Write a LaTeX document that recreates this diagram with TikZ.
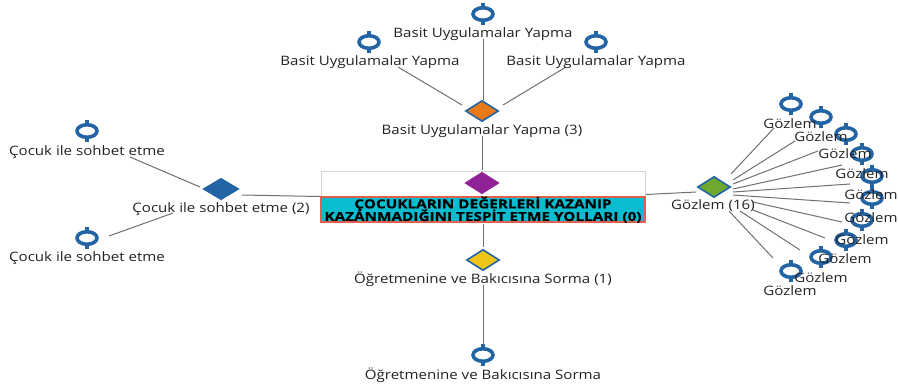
\documentclass[tikz,border=0pt]{standalone}
\usepackage{fontspec}
\setmainfont[FakeStretch=1.16]{Open Sans}
\usetikzlibrary{shapes.geometric}
\definecolor{symblue}{HTML}{2364A5}
\definecolor{linegray}{HTML}{707070}
\definecolor{txtgray}{HTML}{222222}
\definecolor{teal}{HTML}{0ABCCF}
\definecolor{boxred}{HTML}{E0604F}
\definecolor{boxgray}{HTML}{D4D4D4}
\definecolor{dorange}{HTML}{E87B17}
\definecolor{dpurple}{HTML}{8E2296}
\definecolor{dyellow}{HTML}{EEC516}
\definecolor{dgreen}{HTML}{6FA82E}
\newcommand{\centerfont}{\fontsize{12.4}{12.6}\selectfont\bfseries\addfontfeature{FakeBold=0.5,FakeStretch=1.235}\lineskiplimit=-20pt\relax}
\tikzset{
  x=1pt,y=-1pt,
  conn/.style={draw=linegray,line width=1pt},
  dia/.style={diamond,draw=symblue,line width=1.6pt,inner sep=0pt,minimum width=33pt,minimum height=21pt},
  lab/.style={inner sep=0pt,text=txtgray,font=\fontsize{13}{14}\selectfont},
  ring/.style={ellipse,draw=symblue,fill=white,line width=3.6pt,inner sep=0pt,minimum width=20pt,minimum height=12.5pt},
  stem/.style={draw=symblue,line width=3.4pt},
}
\newcommand{\symb}[3]{%
  \draw[stem] (#2,#3-11) -- (#2,#3+11);
  \node[ring] (#1) at (#2,#3) {};}
\begin{document}
\begin{tikzpicture}
\useasboundingbox (0,0) rectangle (898,384);
% central box
\node[draw=boxgray,line width=1pt,fill=white,minimum width=324pt,minimum height=26pt,inner sep=0pt] (top) at (483,184) {};
\node[draw=boxred,line width=1.4pt,fill=teal,minimum width=324pt,minimum height=25pt,inner sep=0pt] (main) at (483,209.5) {};
\node[inner sep=0pt,align=center,font=\centerfont,text=black] (maintext) at (483,209.8)
      {ÇOCUKLARIN DEĞERLERİ KAZANIP\\KAZANMADIĞINI TESPİT ETME YOLLARI (0)};
% diamonds
\node[dia,fill=dpurple,draw=dpurple] (dcenter) at (482,183) {};
\node[dia,fill=dorange] (dtop) at (482,111) {};
\node[dia,fill=dyellow] (dbot) at (483,260) {};
\node[dia,fill=symblue,minimum width=35pt] (dleft) at (221,189) {};
\node[dia,fill=dgreen] (dright) at (714,187) {};
% leaf symbols
\symb{t1}{369}{42}
\symb{t2}{483}{14}
\symb{t3}{596}{42}
\symb{b1}{483}{355}
\symb{l1}{87}{131}
\symb{l2}{87}{238}
\symb{r1}{791}{104}
\symb{r2}{821}{117}
\symb{r3}{846}{134}
\symb{r4}{862}{154}
\symb{r5}{872}{176}
\symb{r6}{872}{198}
\symb{r7}{862}{220}
\symb{r8}{846}{240}
\symb{r9}{821}{257}
\symb{r10}{791}{271}
% connectors
\draw[conn] ([shift={(0,25)}]t2.center) -- ([shift={(1,-11)}]dtop.center);
\draw[conn] ([shift={(29,25)}]t1.center) -- ([shift={(-20,-6)}]dtop.center);
\draw[conn] ([shift={(-30,25)}]t3.center) -- ([shift={(21,-6)}]dtop.center);
\draw[conn] ([shift={(0,25)}]dtop.center) -- ([shift={(0,-13)}]dcenter.center);
\draw[conn] ([shift={(0,14.5)}]main.center) -- ([shift={(0,-13)}]dbot.center);
\draw[conn] ([shift={(0,25)}]dbot.center) -- ([shift={(0,-10)}]b1.center);
\draw[conn] ([shift={(43,26)}]l1.center) -- ([shift={(-21,-2)}]dleft.center);
\draw[conn] ([shift={(22,-2)}]l2.center) -- ([shift={(-48,24)}]dleft.center);
\draw[conn] ([shift={(21,6)}]dleft.center) -- ([shift={(-163,-13)}]main.center);
\draw[conn] ([shift={(163,-15)}]main.center) -- ([shift={(-18,5)}]dright.center);
\foreach \n/\ax/\ay/\bx/\by in {
  r1/-17/24/17/-13, r2/-26/24/19/-7, r3/-28/17/19/-3, r4/-20/11/19/2, r5/-22/8/19/5,
  r6/-22/5/19/8, r7/-20/2/39/15, r8/-21/-2/39/23, r9/-21/-7/26/24, r10/-18/-13/15/24}
  \draw[conn] ([shift={(\ax,\ay)}]\n.center) -- ([shift={(\bx,\by)}]dright.center);
% labels
\node[lab] (lt1) at (370,62) {Basit Uygulamalar Yapma};
\node[lab] (lt2) at (483,34) {Basit Uygulamalar Yapma};
\node[lab] (lt3) at (596,62) {Basit Uygulamalar Yapma};
\node[lab] (ldt) at (482,131) {Basit Uygulamalar Yapma (3)};
\node[lab] (ldb) at (483,279) {Öğretmenine ve Bakıcısına Sorma (1)};
\node[lab] (lb1) at (483,375) {Öğretmenine ve Bakıcısına Sorma};
\node[lab] (ll1) at (87,152) {Çocuk ile sohbet etme};
\node[lab] (ll2) at (87,258) {Çocuk ile sohbet etme};
\node[lab] (ldl) at (221,209) {Çocuk ile sohbet etme (2)};
\node[lab] (ldr) at (713,206) {Gözlem (16)};
\foreach \i/\x/\y in {1/790/124,2/821/137,3/845/154,4/862/174,5/871/195,6/871/218,7/862/240,8/845/259,9/821/278,10/790/291}
  \node[lab] (lr\i) at (\x,\y) {Gözlem};
\end{tikzpicture}
\end{document}
